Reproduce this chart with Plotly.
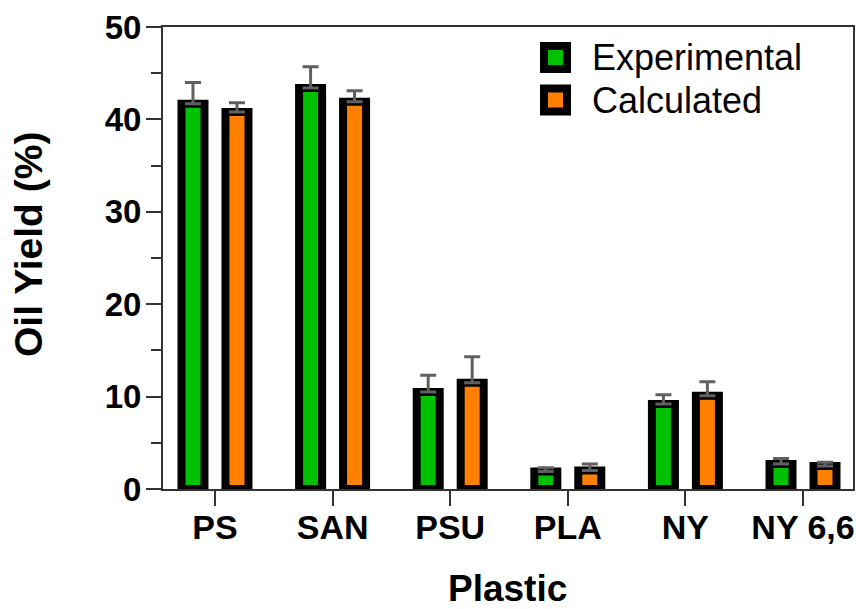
import plotly.graph_objects as go

categories = ["PS", "SAN", "PSU", "PLA", "NY", "NY 6,6"]
experimental = [41.7, 43.4, 10.5, 1.9, 9.2, 2.7]
experimental_err = [2.3, 2.3, 1.8, 0.4, 1.0, 0.6]
calculated = [40.8, 41.9, 11.5, 2.0, 10.1, 2.5]
calculated_err = [1.0, 1.2, 2.8, 0.7, 1.5, 0.4]
series_names = ["Experimental", "Calculated"]
series_colors = ["#00C000", "#FF8000"]
y_ticks = [0, 10, 20, 30, 40, 50]

FONT = "Liberation Sans, Arial, sans-serif"
W, H = 856, 609
L, R, T, B = 163, 3, 27, 120
pw, ph = W - L - R, H - T - B

def px_x(px):
    return (px - L) / pw

def px_y(py):
    return (H - B - py) / ph

fig = go.Figure()
for name, vals, errs, col in [
    (series_names[0], experimental, experimental_err, series_colors[0]),
    (series_names[1], calculated, calculated_err, series_colors[1]),
]:
    fig.add_trace(go.Bar(
        x=categories, y=vals, name=name,
        marker=dict(color=col, line=dict(color="black", width=8)),
        error_y=dict(type="data", array=errs, arrayminus=[0] * len(errs),
                     symmetric=False, color="#606060", thickness=3, width=8),
        showlegend=False,
    ))

fig.update_layout(
    width=W, height=H,
    margin=dict(l=L, r=R, t=T, b=B, autoexpand=False),
    plot_bgcolor="white", paper_bgcolor="white",
    barmode="group", bargap=0.252, bargroupgap=0.477,
    font=dict(family=FONT, color="black"),
    xaxis=dict(
        range=[-0.442, 5.425], showgrid=False,
        showline=True, linecolor="#333", linewidth=2, mirror=True,
        ticks="outside", ticklen=15, tickwidth=2, tickcolor="#333",
        tickfont=dict(size=34, family=FONT, weight="bold", color="black"),
        ticklabelstandoff=-8,
        automargin=False,
    ),
    yaxis=dict(
        range=[0, 50], tickvals=y_ticks, showgrid=False, zeroline=False,
        showline=True, linecolor="#333", linewidth=2, mirror=True,
        ticks="outside", ticklen=15, tickwidth=2, tickcolor="#333",
        minor=dict(dtick=5, ticks="outside", ticklen=10, tickwidth=2, tickcolor="#333"),
        tickfont=dict(size=33, family=FONT, weight="bold", color="black"),
        ticklabelstandoff=-2,
        automargin=False,
    ),
)

fig.add_annotation(text="Oil Yield (%)", xref="paper", yref="paper",
                   x=px_x(28), y=px_y(245), textangle=-90, showarrow=False,
                   font=dict(size=39, family=FONT, weight="bold", color="black"),
                   xanchor="center", yanchor="middle")
fig.add_annotation(text="Plastic", xref="paper", yref="paper",
                   x=px_x(507), y=px_y(588), showarrow=False,
                   font=dict(size=37, family=FONT, weight="bold", color="black"),
                   xanchor="center", yanchor="middle")

# legend
for i, (name, col) in enumerate(zip(series_names, series_colors)):
    cy = [57.5, 100][i]
    fig.add_shape(type="rect", xref="paper", yref="paper",
                  x0=px_x(544), x1=px_x(567), y0=px_y(cy - 11.5), y1=px_y(cy + 11.5),
                  line=dict(color="black", width=8), fillcolor=col)
    fig.add_annotation(text=name, xref="paper", yref="paper",
                       x=px_x(590), y=px_y(cy), showarrow=False,
                       xanchor="left", yanchor="middle",
                       font=dict(size=36, family=FONT, color="black"))

fig.write_html("out.html", post_script="document.body.style.margin='0';",
               config={"displayModeBar": False})
